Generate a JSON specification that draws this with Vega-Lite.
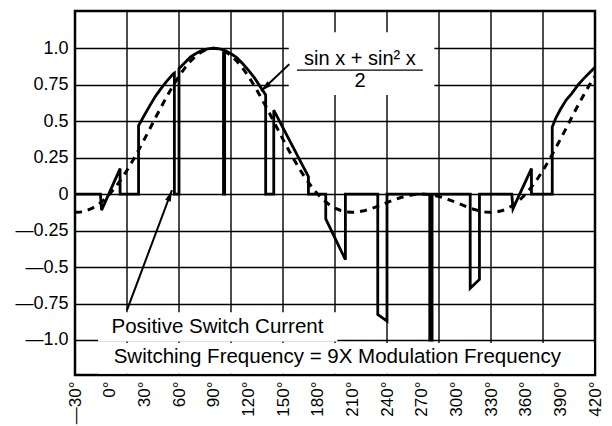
{
  "$schema": "https://vega.github.io/schema/vega-lite/v6.json",
  "width": 520,
  "height": 364,
  "autosize": "none",
  "padding": {"left": 75, "top": 11, "right": 17, "bottom": 51},
  "background": "white",
  "config": {
    "view": {"stroke": "black", "strokeWidth": 2.5},
    "font": "Liberation Sans"
  },
  "datasets": {
    "dashed": [
      {"x": -30, "y": -0.125}, {"x": -25, "y": -0.122}, {"x": -20, "y": -0.1125}, {"x": -15, "y": -0.0959},
      {"x": -10, "y": -0.0718}, {"x": -5, "y": -0.0398}, {"x": 0, "y": 0}, {"x": 5, "y": 0.0474},
      {"x": 10, "y": 0.1019}, {"x": 15, "y": 0.1629}, {"x": 20, "y": 0.2295}, {"x": 25, "y": 0.3006},
      {"x": 30, "y": 0.375}, {"x": 35, "y": 0.4513}, {"x": 40, "y": 0.528}, {"x": 45, "y": 0.6036},
      {"x": 50, "y": 0.6764}, {"x": 55, "y": 0.7451}, {"x": 60, "y": 0.808}, {"x": 65, "y": 0.8638},
      {"x": 70, "y": 0.9114}, {"x": 75, "y": 0.9495}, {"x": 80, "y": 0.9773}, {"x": 85, "y": 0.9943},
      {"x": 90, "y": 1}, {"x": 95, "y": 0.9943}, {"x": 100, "y": 0.9773}, {"x": 105, "y": 0.9495},
      {"x": 110, "y": 0.9114}, {"x": 115, "y": 0.8638}, {"x": 120, "y": 0.808}, {"x": 125, "y": 0.7451},
      {"x": 130, "y": 0.6764}, {"x": 135, "y": 0.6036}, {"x": 140, "y": 0.528}, {"x": 145, "y": 0.4513},
      {"x": 150, "y": 0.375}, {"x": 155, "y": 0.3006}, {"x": 160, "y": 0.2295}, {"x": 165, "y": 0.1629},
      {"x": 170, "y": 0.1019}, {"x": 175, "y": 0.0474}, {"x": 180, "y": 0}, {"x": 185, "y": -0.0398},
      {"x": 190, "y": -0.0718}, {"x": 195, "y": -0.0959}, {"x": 200, "y": -0.1125}, {"x": 205, "y": -0.122},
      {"x": 210, "y": -0.125}, {"x": 215, "y": -0.1223}, {"x": 220, "y": -0.1148}, {"x": 225, "y": -0.1036},
      {"x": 230, "y": -0.0896}, {"x": 235, "y": -0.0741}, {"x": 240, "y": -0.058}, {"x": 245, "y": -0.0425},
      {"x": 250, "y": -0.0283}, {"x": 255, "y": -0.0165}, {"x": 260, "y": -0.0075}, {"x": 265, "y": -0.0019},
      {"x": 270, "y": 0}, {"x": 275, "y": -0.0019}, {"x": 280, "y": -0.0075}, {"x": 285, "y": -0.0165},
      {"x": 290, "y": -0.0283}, {"x": 295, "y": -0.0425}, {"x": 300, "y": -0.058}, {"x": 305, "y": -0.0741},
      {"x": 310, "y": -0.0896}, {"x": 315, "y": -0.1036}, {"x": 320, "y": -0.1148}, {"x": 325, "y": -0.1223},
      {"x": 330, "y": -0.125}, {"x": 335, "y": -0.122}, {"x": 340, "y": -0.1125}, {"x": 345, "y": -0.0959},
      {"x": 350, "y": -0.0718}, {"x": 355, "y": -0.0398}, {"x": 360, "y": 0}, {"x": 365, "y": 0.0474},
      {"x": 370, "y": 0.1019}, {"x": 375, "y": 0.1629}, {"x": 380, "y": 0.2295}, {"x": 385, "y": 0.3006},
      {"x": 390, "y": 0.375}, {"x": 395, "y": 0.4513}, {"x": 400, "y": 0.528}, {"x": 405, "y": 0.6036},
      {"x": 410, "y": 0.6764}, {"x": 415, "y": 0.7451}, {"x": 420, "y": 0.808}
    ],
    "solid": [
      {"i": 1, "x": -30, "y": 0}, {"i": 2, "x": -8, "y": 0}, {"i": 3, "x": -7, "y": -0.11},
      {"i": 4, "x": 9, "y": 0.175}, {"i": 5, "x": 9, "y": 0}, {"i": 6, "x": 25, "y": 0},
      {"i": 7, "x": 25, "y": 0.47}, {"i": 8, "x": 30, "y": 0.54}, {"i": 9, "x": 35, "y": 0.61},
      {"i": 10, "x": 40, "y": 0.675}, {"i": 11, "x": 46, "y": 0.74}, {"i": 12, "x": 50, "y": 0.78},
      {"i": 13, "x": 55, "y": 0.825}, {"i": 14, "x": 56, "y": 0.83}, {"i": 15, "x": 56, "y": 0},
      {"i": 16, "x": 60, "y": 0}, {"i": 17, "x": 60, "y": 0.86}, {"i": 18, "x": 65, "y": 0.9},
      {"i": 19, "x": 70, "y": 0.94}, {"i": 20, "x": 75, "y": 0.965}, {"i": 21, "x": 80, "y": 0.985},
      {"i": 22, "x": 85, "y": 0.996}, {"i": 23, "x": 90, "y": 1.0}, {"i": 24, "x": 95, "y": 0.996},
      {"i": 25, "x": 98.5, "y": 0.988}, {"i": 26, "x": 98.5, "y": 0}, {"i": 27, "x": 99.5, "y": 0},
      {"i": 28, "x": 99.5, "y": 0.985}, {"i": 29, "x": 105, "y": 0.962}, {"i": 30, "x": 110, "y": 0.935},
      {"i": 31, "x": 115, "y": 0.895}, {"i": 32, "x": 120, "y": 0.85}, {"i": 33, "x": 125, "y": 0.8},
      {"i": 34, "x": 130, "y": 0.74}, {"i": 35, "x": 135, "y": 0.68}, {"i": 36, "x": 135, "y": 0},
      {"i": 37, "x": 142, "y": 0}, {"i": 38, "x": 142, "y": 0.575}, {"i": 39, "x": 172, "y": 0.12},
      {"i": 40, "x": 172, "y": 0}, {"i": 41, "x": 187, "y": 0}, {"i": 42, "x": 187, "y": -0.17},
      {"i": 43, "x": 204, "y": -0.45}, {"i": 44, "x": 204, "y": 0}, {"i": 45, "x": 232, "y": 0},
      {"i": 46, "x": 232, "y": -0.825}, {"i": 47, "x": 240, "y": -0.87}, {"i": 48, "x": 240, "y": 0},
      {"i": 49, "x": 277, "y": 0}, {"i": 50, "x": 277, "y": -1.0}, {"i": 51, "x": 279, "y": -1.0},
      {"i": 52, "x": 279, "y": 0}, {"i": 53, "x": 312, "y": 0}, {"i": 54, "x": 312, "y": -0.645},
      {"i": 55, "x": 320, "y": -0.585}, {"i": 56, "x": 320, "y": 0}, {"i": 57, "x": 348, "y": 0},
      {"i": 58, "x": 349, "y": -0.1}, {"i": 59, "x": 365, "y": 0.175}, {"i": 60, "x": 365, "y": 0},
      {"i": 61, "x": 383, "y": 0}, {"i": 62, "x": 383, "y": 0.46}, {"i": 63, "x": 386, "y": 0.52},
      {"i": 64, "x": 390, "y": 0.58}, {"i": 65, "x": 395, "y": 0.645}, {"i": 66, "x": 400, "y": 0.69},
      {"i": 67, "x": 405, "y": 0.745}, {"i": 68, "x": 410, "y": 0.79}, {"i": 69, "x": 415, "y": 0.83},
      {"i": 70, "x": 420, "y": 0.87}
    ],
    "vgrid": [{"g": 15}, {"g": 60}, {"g": 105}, {"g": 150}, {"g": 195}, {"g": 240}, {"g": 285}, {"g": 330}, {"g": 375}],
    "boxes": [
      {"x1": 155, "x2": 281, "y1": 0.68, "y2": 1.11},
      {"x1": -10, "x2": 197, "y1": -1.01, "y2": -0.81},
      {"x1": -10, "x2": 419, "y1": -1.232, "y2": -1.02}
    ],
    "arrows": [
      {"x1": 15, "y1": -0.795, "x2": 53.9, "y2": 0.027, "a": 20.6},
      {"x1": 155.5, "y1": 0.891, "x2": 131, "y2": 0.706, "a": 228}
    ],
    "fraction": [{"x1": 162, "x2": 271, "y": 0.85}],
    "labels": [
      {"t": "sin x  +  sin² x", "x": 216.6, "y": 0.884, "s": 20},
      {"t": "2", "x": 216.6, "y": 0.731, "s": 20},
      {"t": "Positive Switch Current", "x": 93.3, "y": -0.95, "s": 20.5},
      {"t": "Switching Frequency = 9X Modulation Frequency", "x": 197, "y": -1.158, "s": 20.5}
    ]
  },
  "layer": [
    {
      "data": {"name": "vgrid"},
      "mark": {"type": "rule", "color": "black", "strokeWidth": 1.4},
      "encoding": {
        "x": {
          "field": "g", "type": "quantitative",
          "scale": {"domain": [-30, 420], "nice": false, "zero": false},
          "axis": {
            "values": [-30, 0, 30, 60, 90, 120, 150, 180, 210, 240, 270, 300, 330, 360, 390, 420],
            "labelExpr": "(datum.value < 0 ? '—' + abs(datum.value) : '' + datum.value) + '°'",
            "labelAngle": -90, "labelFlush": false, "labelOverlap": false, "labelBound": false,
            "labelFontSize": 17, "labelColor": "black", "labelPadding": 6,
            "ticks": false, "domain": false, "grid": false, "title": null
          }
        }
      }
    },
    {
      "data": {"name": "boxes"},
      "mark": {"type": "rect", "fill": "white", "stroke": null},
      "encoding": {
        "x": {
          "field": "x1", "type": "quantitative",
          "scale": {"domain": [-30, 420], "nice": false, "zero": false},
          "axis": {
            "values": [-30, 0, 30, 60, 90, 120, 150, 180, 210, 240, 270, 300, 330, 360, 390, 420],
            "labelExpr": "(datum.value < 0 ? '—' + abs(datum.value) : '' + datum.value) + '°'",
            "labelAngle": -90, "labelFlush": false, "labelOverlap": false, "labelBound": false,
            "labelFontSize": 17, "labelColor": "black", "labelPadding": 6,
            "ticks": false, "domain": false, "grid": false, "title": null
          }
        },
        "x2": {"field": "x2"},
        "y": {
          "field": "y1", "type": "quantitative",
          "scale": {"domain": [-1.24, 1.255], "nice": false, "zero": false},
          "axis": {
            "values": [-1, -0.75, -0.5, -0.25, 0, 0.25, 0.5, 0.75, 1],
            "labelExpr": "datum.value == 1 ? '1.0' : datum.value == -1 ? '—1.0' : datum.value < 0 ? '—' + abs(datum.value) : '' + datum.value",
            "labelFontSize": 18, "labelColor": "black", "labelPadding": 7,
            "ticks": false, "domain": false, "grid": true, "gridColor": "black", "gridWidth": 1.4, "gridOpacity": 1,
            "title": null
          }
        },
        "y2": {"field": "y2"}
      }
    },
    {
      "data": {"name": "dashed"},
      "mark": {"type": "line", "color": "black", "strokeWidth": 3, "strokeDash": [7, 6]},
      "encoding": {
        "x": {
          "field": "x", "type": "quantitative",
          "scale": {"domain": [-30, 420], "nice": false, "zero": false},
          "axis": {
            "values": [-30, 0, 30, 60, 90, 120, 150, 180, 210, 240, 270, 300, 330, 360, 390, 420],
            "labelExpr": "(datum.value < 0 ? '—' + abs(datum.value) : '' + datum.value) + '°'",
            "labelAngle": -90, "labelFlush": false, "labelOverlap": false, "labelBound": false,
            "labelFontSize": 17, "labelColor": "black", "labelPadding": 6,
            "ticks": false, "domain": false, "grid": false, "title": null
          }
        },
        "y": {
          "field": "y", "type": "quantitative",
          "scale": {"domain": [-1.24, 1.255], "nice": false, "zero": false},
          "axis": {
            "values": [-1, -0.75, -0.5, -0.25, 0, 0.25, 0.5, 0.75, 1],
            "labelExpr": "datum.value == 1 ? '1.0' : datum.value == -1 ? '—1.0' : datum.value < 0 ? '—' + abs(datum.value) : '' + datum.value",
            "labelFontSize": 18, "labelColor": "black", "labelPadding": 7,
            "ticks": false, "domain": false, "grid": true, "gridColor": "black", "gridWidth": 1.4, "gridOpacity": 1,
            "title": null
          }
        }
      }
    },
    {
      "data": {"name": "solid"},
      "mark": {"type": "line", "color": "black", "strokeWidth": 2.8, "strokeJoin": "miter"},
      "encoding": {
        "x": {
          "field": "x", "type": "quantitative",
          "scale": {"domain": [-30, 420], "nice": false, "zero": false},
          "axis": {
            "values": [-30, 0, 30, 60, 90, 120, 150, 180, 210, 240, 270, 300, 330, 360, 390, 420],
            "labelExpr": "(datum.value < 0 ? '—' + abs(datum.value) : '' + datum.value) + '°'",
            "labelAngle": -90, "labelFlush": false, "labelOverlap": false, "labelBound": false,
            "labelFontSize": 17, "labelColor": "black", "labelPadding": 6,
            "ticks": false, "domain": false, "grid": false, "title": null
          }
        },
        "y": {
          "field": "y", "type": "quantitative",
          "scale": {"domain": [-1.24, 1.255], "nice": false, "zero": false},
          "axis": {
            "values": [-1, -0.75, -0.5, -0.25, 0, 0.25, 0.5, 0.75, 1],
            "labelExpr": "datum.value == 1 ? '1.0' : datum.value == -1 ? '—1.0' : datum.value < 0 ? '—' + abs(datum.value) : '' + datum.value",
            "labelFontSize": 18, "labelColor": "black", "labelPadding": 7,
            "ticks": false, "domain": false, "grid": true, "gridColor": "black", "gridWidth": 1.4, "gridOpacity": 1,
            "title": null
          }
        },
        "order": {"field": "i", "type": "quantitative"}
      }
    },
    {
      "data": {"name": "arrows"},
      "mark": {"type": "rule", "color": "black", "strokeWidth": 2},
      "encoding": {
        "x": {
          "field": "x1", "type": "quantitative",
          "scale": {"domain": [-30, 420], "nice": false, "zero": false},
          "axis": {
            "values": [-30, 0, 30, 60, 90, 120, 150, 180, 210, 240, 270, 300, 330, 360, 390, 420],
            "labelExpr": "(datum.value < 0 ? '—' + abs(datum.value) : '' + datum.value) + '°'",
            "labelAngle": -90, "labelFlush": false, "labelOverlap": false, "labelBound": false,
            "labelFontSize": 17, "labelColor": "black", "labelPadding": 6,
            "ticks": false, "domain": false, "grid": false, "title": null
          }
        },
        "y": {
          "field": "y1", "type": "quantitative",
          "scale": {"domain": [-1.24, 1.255], "nice": false, "zero": false},
          "axis": {
            "values": [-1, -0.75, -0.5, -0.25, 0, 0.25, 0.5, 0.75, 1],
            "labelExpr": "datum.value == 1 ? '1.0' : datum.value == -1 ? '—1.0' : datum.value < 0 ? '—' + abs(datum.value) : '' + datum.value",
            "labelFontSize": 18, "labelColor": "black", "labelPadding": 7,
            "ticks": false, "domain": false, "grid": true, "gridColor": "black", "gridWidth": 1.4, "gridOpacity": 1,
            "title": null
          }
        },
        "x2": {"field": "x2"},
        "y2": {"field": "y2"}
      }
    },
    {
      "data": {"name": "arrows"},
      "mark": {"type": "point", "shape": "M0,0L0.42,1.6L-0.42,1.6Z", "filled": true, "color": "black", "opacity": 1, "size": 200},
      "encoding": {
        "x": {
          "field": "x2", "type": "quantitative",
          "scale": {"domain": [-30, 420], "nice": false, "zero": false},
          "axis": {
            "values": [-30, 0, 30, 60, 90, 120, 150, 180, 210, 240, 270, 300, 330, 360, 390, 420],
            "labelExpr": "(datum.value < 0 ? '—' + abs(datum.value) : '' + datum.value) + '°'",
            "labelAngle": -90, "labelFlush": false, "labelOverlap": false, "labelBound": false,
            "labelFontSize": 17, "labelColor": "black", "labelPadding": 6,
            "ticks": false, "domain": false, "grid": false, "title": null
          }
        },
        "y": {
          "field": "y2", "type": "quantitative",
          "scale": {"domain": [-1.24, 1.255], "nice": false, "zero": false},
          "axis": {
            "values": [-1, -0.75, -0.5, -0.25, 0, 0.25, 0.5, 0.75, 1],
            "labelExpr": "datum.value == 1 ? '1.0' : datum.value == -1 ? '—1.0' : datum.value < 0 ? '—' + abs(datum.value) : '' + datum.value",
            "labelFontSize": 18, "labelColor": "black", "labelPadding": 7,
            "ticks": false, "domain": false, "grid": true, "gridColor": "black", "gridWidth": 1.4, "gridOpacity": 1,
            "title": null
          }
        },
        "angle": {"field": "a", "type": "quantitative", "scale": null}
      }
    },
    {
      "data": {"name": "fraction"},
      "mark": {"type": "rule", "color": "black", "strokeWidth": 1.2},
      "encoding": {
        "x": {
          "field": "x1", "type": "quantitative",
          "scale": {"domain": [-30, 420], "nice": false, "zero": false},
          "axis": {
            "values": [-30, 0, 30, 60, 90, 120, 150, 180, 210, 240, 270, 300, 330, 360, 390, 420],
            "labelExpr": "(datum.value < 0 ? '—' + abs(datum.value) : '' + datum.value) + '°'",
            "labelAngle": -90, "labelFlush": false, "labelOverlap": false, "labelBound": false,
            "labelFontSize": 17, "labelColor": "black", "labelPadding": 6,
            "ticks": false, "domain": false, "grid": false, "title": null
          }
        },
        "x2": {"field": "x2"},
        "y": {
          "field": "y", "type": "quantitative",
          "scale": {"domain": [-1.24, 1.255], "nice": false, "zero": false},
          "axis": {
            "values": [-1, -0.75, -0.5, -0.25, 0, 0.25, 0.5, 0.75, 1],
            "labelExpr": "datum.value == 1 ? '1.0' : datum.value == -1 ? '—1.0' : datum.value < 0 ? '—' + abs(datum.value) : '' + datum.value",
            "labelFontSize": 18, "labelColor": "black", "labelPadding": 7,
            "ticks": false, "domain": false, "grid": true, "gridColor": "black", "gridWidth": 1.4, "gridOpacity": 1,
            "title": null
          }
        }
      }
    },
    {
      "data": {"name": "labels"},
      "mark": {"type": "text", "color": "black", "align": "center", "baseline": "alphabetic"},
      "encoding": {
        "x": {
          "field": "x", "type": "quantitative",
          "scale": {"domain": [-30, 420], "nice": false, "zero": false},
          "axis": {
            "values": [-30, 0, 30, 60, 90, 120, 150, 180, 210, 240, 270, 300, 330, 360, 390, 420],
            "labelExpr": "(datum.value < 0 ? '—' + abs(datum.value) : '' + datum.value) + '°'",
            "labelAngle": -90, "labelFlush": false, "labelOverlap": false, "labelBound": false,
            "labelFontSize": 17, "labelColor": "black", "labelPadding": 6,
            "ticks": false, "domain": false, "grid": false, "title": null
          }
        },
        "y": {
          "field": "y", "type": "quantitative",
          "scale": {"domain": [-1.24, 1.255], "nice": false, "zero": false},
          "axis": {
            "values": [-1, -0.75, -0.5, -0.25, 0, 0.25, 0.5, 0.75, 1],
            "labelExpr": "datum.value == 1 ? '1.0' : datum.value == -1 ? '—1.0' : datum.value < 0 ? '—' + abs(datum.value) : '' + datum.value",
            "labelFontSize": 18, "labelColor": "black", "labelPadding": 7,
            "ticks": false, "domain": false, "grid": true, "gridColor": "black", "gridWidth": 1.4, "gridOpacity": 1,
            "title": null
          }
        },
        "text": {"field": "t"},
        "size": {"field": "s", "type": "quantitative", "scale": null}
      }
    }
  ]
}
